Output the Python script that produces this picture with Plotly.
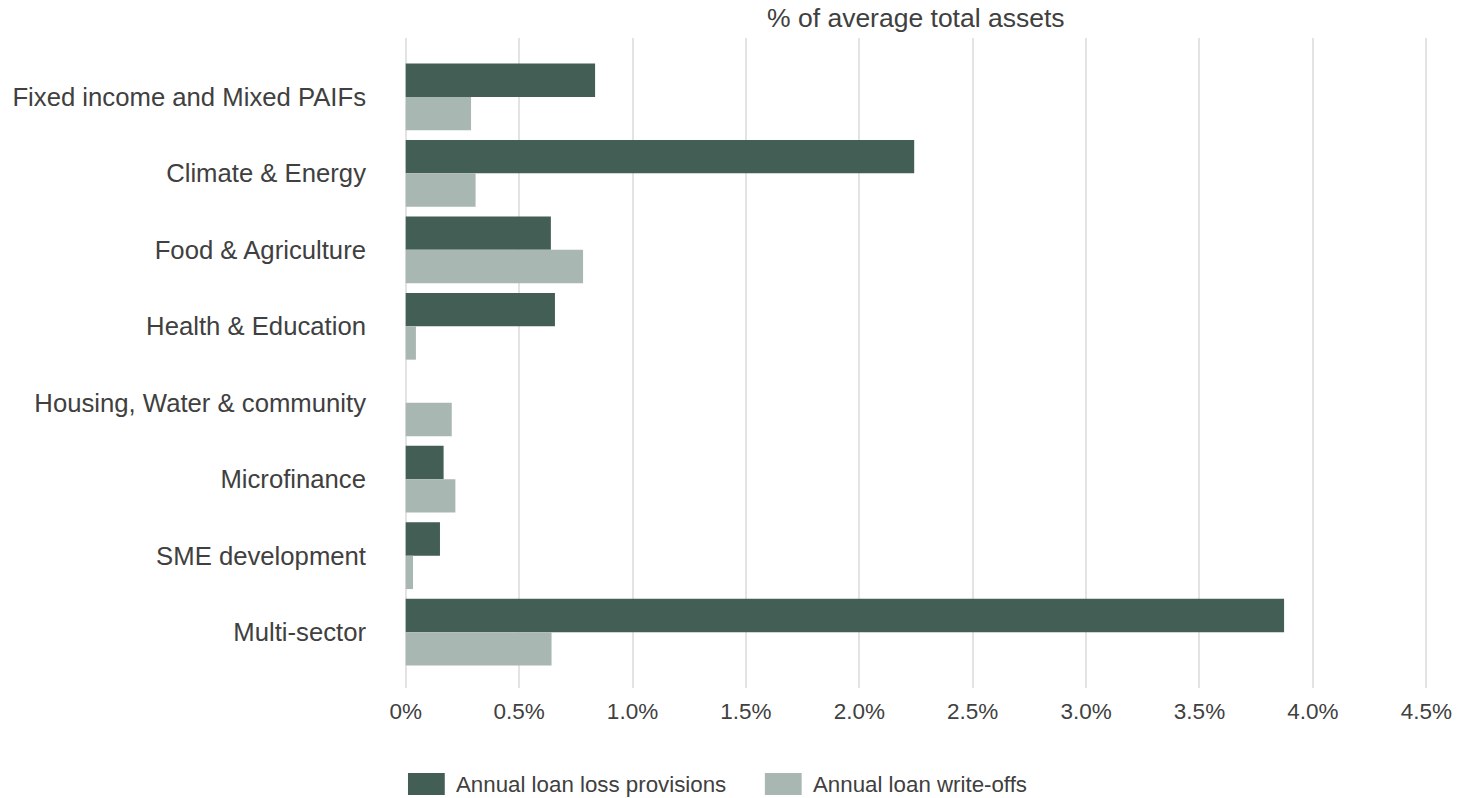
import plotly.graph_objects as go

categories = [
    "Fixed income and Mixed PAIFs",
    "Climate & Energy",
    "Food & Agriculture",
    "Health & Education",
    "Housing, Water & community",
    "Microfinance",
    "SME development",
    "Multi-sector",
]
loss_provisions = [0.835, 2.242, 0.640, 0.658, 0.0, 0.167, 0.151, 3.873]
write_offs = [0.288, 0.308, 0.782, 0.045, 0.203, 0.219, 0.032, 0.643]

x_ticks = [0, 0.5, 1.0, 1.5, 2.0, 2.5, 3.0, 3.5, 4.0, 4.5]
x_tick_labels = ["0%", "0.5%", "1.0%", "1.5%", "2.0%", "2.5%", "3.0%", "3.5%", "4.0%", "4.5%"]

series_names = ["Annual loan loss provisions", "Annual loan write-offs"]
DARK = "#425E55"
LIGHT = "#A9B7B3"
TEXT = "#404040"
FONT = "Liberation Sans, Arial, sans-serif"

W, H = 1464, 798
M_L, M_R, M_T, M_B = 402, 30, 38, 110

fig = go.Figure()
fig.add_trace(go.Bar(
    y=categories, x=loss_provisions, orientation="h",
    name=series_names[0], marker=dict(color=DARK, line=dict(width=0)),
    showlegend=False,
))
fig.add_trace(go.Bar(
    y=categories, x=write_offs, orientation="h",
    name=series_names[1], marker=dict(color=LIGHT, line=dict(width=0)),
    showlegend=False,
))

fig.update_layout(
    width=W, height=H,
    margin=dict(l=M_L, r=M_R, t=M_T, b=M_B),
    barmode="group",
    bargap=0.127,
    bargroupgap=0,
    plot_bgcolor="white",
    paper_bgcolor="white",
    font=dict(family=FONT, color=TEXT),
    xaxis=dict(
        range=[-0.012, 4.512],
        tickvals=x_ticks, ticktext=x_tick_labels,
        showgrid=True, gridcolor="#E3E3E3", gridwidth=2,
        zeroline=False, showline=False, ticks="",
        tickfont=dict(size=22.5, color=TEXT, family=FONT),
        ticklabelstandoff=7,
    ),
    yaxis=dict(
        categoryorder="array", categoryarray=categories,
        range=[7.73, -0.77],
        showgrid=False, zeroline=False, showline=False, ticks="",
        tickfont=dict(size=25.7, color=TEXT, family=FONT),
        ticklabelstandoff=36,
    ),
)

# Axis caption above the plot
fig.add_annotation(
    text="% of average total assets", xref="paper", yref="paper",
    x=0.5, y=1, yshift=20, xanchor="center", yanchor="middle",
    showarrow=False, font=dict(size=26.5, color=TEXT, family=FONT),
)

# Legend row below the axis
legend_items = [(series_names[0], DARK, 407), (series_names[1], LIGHT, 766)]
plot_w = W - M_L - M_R
plot_h = H - M_T - M_B
for label, color, px in legend_items:
    x0 = (px - M_L) / plot_w
    x1 = (px + 37 - M_L) / plot_w
    yc = (H - 784 - M_B) / plot_h
    h = 11 / plot_h
    fig.add_shape(type="rect", xref="paper", yref="paper",
                  x0=x0, x1=x1, y0=yc - h, y1=yc + h,
                  fillcolor=color, line=dict(width=0))
    fig.add_annotation(text=label, xref="paper", yref="paper",
                       x=(px + 46 - M_L) / plot_w, y=yc,
                       xanchor="left", yanchor="middle", showarrow=False,
                       font=dict(size=22.3, color=TEXT, family=FONT))

fig.write_html("out.html")
